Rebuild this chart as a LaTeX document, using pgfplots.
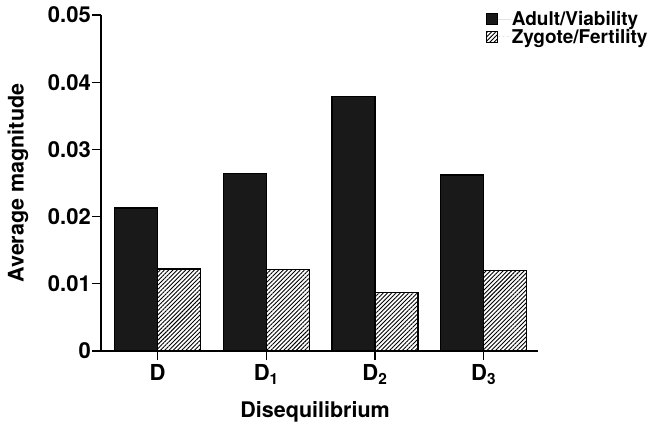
\documentclass[border=0pt]{standalone}
\usepackage{fontspec}
\setmainfont{TeX Gyre Heros}
\usepackage{pgfplots}
\pgfplotsset{compat=1.18}
\usetikzlibrary{patterns.meta}
\begin{document}
\begin{tikzpicture}
\path[use as bounding box] (-101bp,-75bp) rectangle (548bp,351bp);
\begin{axis}[
  at={(0,0)}, anchor=south west,
  scale only axis, width=437bp, height=336bp,
  xmin=-0.52, xmax=3.5, ymin=0, ymax=0.05,
  axis lines=left,
  axis line style={-, line width=1.8bp},
  scaled y ticks=false,
  xtick={0,1,2,3},
  xticklabels={D, D\textsubscript{1}, D\textsubscript{2}, D\textsubscript{3}},
  ytick={0,0.01,0.02,0.03,0.04,0.05},
  yticklabels={0,0.01,0.02,0.03,0.04,0.05},
  tick align=outside,
  major tick length=9bp,
  tick style={line width=1.2bp, black},
  ticklabel style={font=\fontsize{22bp}{24bp}\selectfont\bfseries},
  yticklabel style={inner sep=1bp},
  xticklabel style={inner sep=1bp, yshift=-3bp},
  xlabel={Disequilibrium},
  ylabel={Average magnitude},
  label style={font=\fontsize{21.5bp}{24bp}\selectfont\bfseries},
  xlabel style={at={(axis description cs:0.49,-0.18)}, anchor=center},
  ylabel style={at={(axis description cs:-0.19,0.5)}, anchor=center},
  ybar, bar width=43bp,
  legend style={at={(rel axis cs:0.873,1.02)}, anchor=north west, draw=none, fill=none,
    font=\fontsize{19bp}{20bp}\selectfont\bfseries, row sep=0.5bp,
    nodes={inner sep=0.8bp}},
  legend cell align=left,
  legend image code/.code={\draw[draw=none] (0bp,0bp) -- (25bp,0bp);
    \draw[#1, line width=0.8bp] (0bp,-5.5bp) rectangle (11bp,5.5bp);},
  clip=false,
]
\addplot[draw=black, line width=1.4bp, fill=black!90, bar shift=-21.5bp]
  coordinates {(0,0.0213) (1,0.0264) (2,0.0379) (3,0.0262)};
\addplot[draw=black, line width=1.4bp, pattern={Lines[angle=45,distance=3.0bp,line width=0.9bp]}, bar shift=21.5bp]
  coordinates {(0,0.0122) (1,0.0121) (2,0.0087) (3,0.0120)};
\legend{Adult/Viability, Zygote/Fertility}
\end{axis}
\end{tikzpicture}
\end{document}
